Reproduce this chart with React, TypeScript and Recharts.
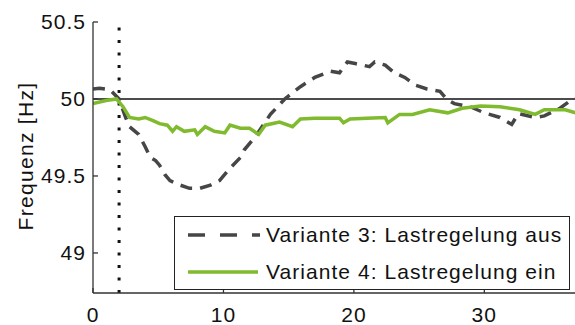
import { LineChart, Line, XAxis, YAxis, ReferenceLine } from 'recharts'

// Variante 3: Lastregelung aus (gestrichelt)
const v3Time = [
  0, 0.5, 1.3, 2, 2.5, 2.8, 3.5, 4, 4.4, 4.8, 5.1, 5.5, 5.9, 6.7, 7.4, 8.2, 9, 9.7, 10.5, 11.3, 11.6,
  12.4, 13.6, 14.7, 15.9, 17, 18.2, 18.9, 19.5, 20.1, 21.2, 21.6, 22.4, 23.1, 23.9, 24.7, 25.6, 26.6,
  27.1, 27.7, 28.9, 30, 31.2, 32.1, 32.6, 33.9, 34.6, 35.8, 36.6, 37,
]
const v3Freq = [
  50.065, 50.07, 50.06, 50.0, 49.88, 49.82, 49.77, 49.69, 49.62, 49.6, 49.57, 49.51, 49.47, 49.44,
  49.42, 49.42, 49.44, 49.47, 49.55, 49.62, 49.67, 49.75, 49.9, 50.0, 50.08, 50.14, 50.18, 50.17,
  50.24, 50.23, 50.21, 50.24, 50.22, 50.17, 50.14, 50.09, 50.065, 50.05, 50.0, 49.97, 49.95, 49.91,
  49.88, 49.835, 49.905, 49.88, 49.89, 49.94, 49.99, 50.0,
]

// Variante 4: Lastregelung ein (grün)
const v4Time = [
  0, 1, 1.8, 2.3, 2.8, 3.5, 4, 4.6, 5.1, 5.7, 6.1, 6.4, 7, 7.8, 8, 8.6, 9.3, 10.1, 10.5, 11.3, 12,
  12.7, 13.2, 14.3, 15.3, 15.9, 17, 18.9, 19.2, 19.7, 21, 22.4, 22.6, 23.5, 24.5, 25.8, 27.2, 28.3,
  29.7, 31.2, 32.7, 33.9, 34.6, 36.2, 37,
]
const v4Freq = [
  49.97, 49.99, 50.0, 49.95, 49.88, 49.87, 49.88, 49.86, 49.84, 49.83, 49.79, 49.82, 49.79, 49.8,
  49.77, 49.82, 49.79, 49.78, 49.83, 49.81, 49.81, 49.77, 49.83, 49.85, 49.82, 49.87, 49.875, 49.875,
  49.845, 49.87, 49.875, 49.88, 49.845, 49.9, 49.9, 49.93, 49.91, 49.94, 49.955, 49.95, 49.93, 49.9,
  49.93, 49.93, 49.91,
]

const xTicks = [0, 10, 20, 30]
const yTicks = [49, 49.5, 50, 50.5]
const eventTime = 2

const v3Data = v3Time.map((t, i) => ({ t, f: v3Freq[i] }))
const v4Data = v4Time.map((t, i) => ({ t, f: v4Freq[i] }))

const font = '"Liberation Sans", Arial, sans-serif'
const grey = '#464646'
const green = '#80ba2e'
const spacing = 1.05

function LegendBox() {
  return (
    <div
      style={{
        position: 'absolute',
        left: 174,
        top: 216,
        width: 396,
        height: 74,
        boxSizing: 'border-box',
        border: '1.5px solid #222',
        background: '#fff',
        fontFamily: font,
        fontSize: 21,
        letterSpacing: spacing,
        color: '#111',
        whiteSpace: 'nowrap',
      }}
    >
      <svg width={90} height={72} style={{ position: 'absolute', left: 0, top: 0 }}>
        <line x1={13} x2={85} y1={18} y2={18} stroke={grey} strokeWidth={3.5} strokeDasharray="17 15" />
        <line x1={13} x2={83} y1={55} y2={55} stroke={green} strokeWidth={3.5} />
      </svg>
      <div style={{ position: 'absolute', left: 91, top: 5, lineHeight: '26px' }}>
        Variante 3: Lastregelung aus
      </div>
      <div style={{ position: 'absolute', left: 91, top: 42, lineHeight: '26px' }}>
        Variante 4: Lastregelung ein
      </div>
    </div>
  )
}

export default function App() {
  return (
    <div style={{ position: 'absolute', left: 0, top: 0, width: 575, height: 325, background: '#fff' }}>
      <LineChart width={575} height={325} margin={{ top: 22, right: 0, bottom: 0, left: 0 }}>
        <XAxis
          type="number"
          dataKey="t"
          domain={[0, 36.95]}
          ticks={xTicks}
          allowDataOverflow
          stroke="#333"
          strokeWidth={1.3}
          tickSize={-5}
          tickMargin={19}
          tick={{ fontSize: 21, fill: '#111', fontFamily: font, letterSpacing: spacing }}
          height={32}
        />
        <YAxis
          type="number"
          dataKey="f"
          domain={[48.74, 50.5]}
          ticks={yTicks}
          allowDataOverflow
          stroke="#333"
          strokeWidth={1.3}
          tickSize={-5}
          tickMargin={12}
          width={93}
          tick={{ fontSize: 21, fill: '#111', fontFamily: font, letterSpacing: spacing }}
          label={{
            content: () => (
              <text
                x={33}
                y={156}
                transform="rotate(-90 33 156)"
                textAnchor="middle"
                fontSize={21}
                fontFamily={font}
                letterSpacing={1.3}
                fill="#111"
              >
                Frequenz [Hz]
              </text>
            ),
          }}
        />
        <ReferenceLine y={50} stroke="#111" strokeWidth={1.3} ifOverflow="hidden" />
        <ReferenceLine x={eventTime} stroke="#111" strokeWidth={3} strokeDasharray="3 9.5" />
        <Line
          data={v3Data}
          dataKey="f"
          type="linear"
          stroke={grey}
          strokeWidth={3.5}
          strokeDasharray="12 8"
          dot={false}
          isAnimationActive={false}
        />
        <Line
          data={v4Data}
          dataKey="f"
          type="linear"
          stroke={green}
          strokeWidth={3.5}
          dot={false}
          isAnimationActive={false}
        />
      </LineChart>
      <LegendBox />
    </div>
  )
}
